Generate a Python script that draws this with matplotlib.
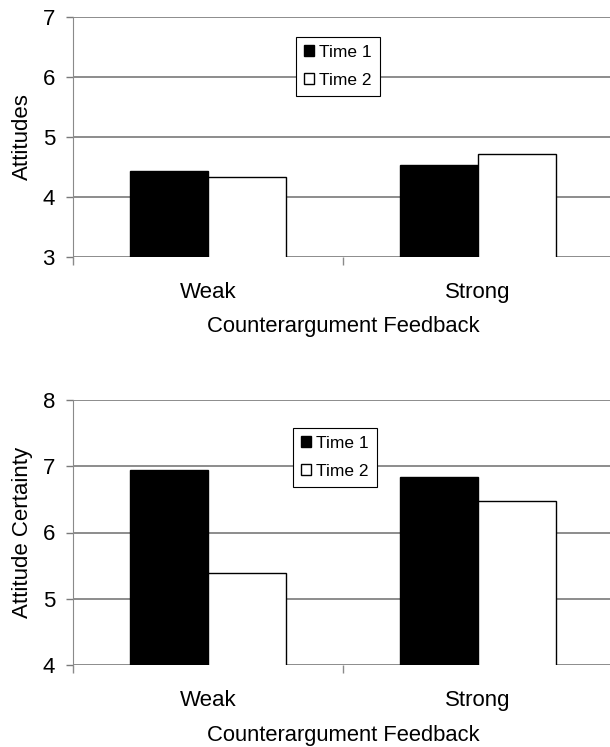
import matplotlib
matplotlib.use("Agg")
import matplotlib.pyplot as plt
import numpy as np

plt.rcParams["font.family"] = ["Liberation Sans", "DejaVu Sans"]

categories = ["Weak", "Strong"]
series = ["Time 1", "Time 2"]
attitudes_t1 = [4.43, 4.53]
attitudes_t2 = [4.33, 4.71]
certainty_t1 = [6.95, 6.84]
certainty_t2 = [5.39, 6.47]

fig = plt.figure(figsize=(6.1, 7.47), dpi=100)
W, H = 610, 747


def panel(rect_px, t1, t2, ylim, ylabel, leg_xy, xlab_y):
    left, top, right, bottom = rect_px
    ax = fig.add_axes([left / W, 1 - bottom / H, (right - left) / W, (bottom - top) / H])
    x = np.arange(len(categories))
    w = 0.288
    ax.bar(x - w / 2, t1, w, color="black", edgecolor="black", linewidth=1, label=series[0], zorder=3)
    ax.bar(x + w / 2, t2, w, color="white", edgecolor="black", linewidth=1, label=series[1], zorder=3)
    ax.set_xlim(-0.5, 1.5)
    ax.set_ylim(*ylim)
    ax.set_yticks(range(ylim[0], ylim[1] + 1))
    ax.yaxis.grid(True, color="#6e6e6e", linewidth=1.1, zorder=0)
    ax.set_axisbelow(True)
    for s in ["top", "right", "bottom"]:
        ax.spines[s].set_visible(False)
    ax.spines["left"].set_color("#8a8a8a")
    ax.tick_params(axis="y", length=5, width=1, color="#7a7a7a", pad=8, labelsize=16)
    ax.set_xticks([-0.5, 0.5, 1.5])
    ax.set_xticklabels([])
    ax.tick_params(axis="x", which="major", length=6, width=1, color="#8a8a8a")
    ax.set_xticks(x, minor=True)
    ax.set_xticklabels(categories, minor=True)
    ax.tick_params(axis="x", which="minor", length=0, pad=18, labelsize=16)
    ax.set_ylabel(ylabel, fontsize=16, labelpad=7)
    ax.set_xlabel("Counterargument Feedback", fontsize=15.8, va="center")
    ax.xaxis.set_label_coords(0.5, xlab_y)
    leg = ax.legend(loc="upper left", bbox_to_anchor=leg_xy, borderaxespad=0, fancybox=False,
                    edgecolor="black", framealpha=1, fontsize=12.5, handlelength=0.6, handleheight=0.6,
                    handletextpad=0.3, borderpad=0.45, labelspacing=0.75)
    leg.get_frame().set_linewidth(0.8)
    return ax


panel((73, 17, 613, 257), attitudes_t1, attitudes_t2, (3, 7), "Attitudes", (0.413, 0.917), -0.288)
panel((73, 400, 613, 665), certainty_t1, certainty_t2, (4, 8), "Attitude Certainty", (0.407, 0.894), -0.266)

fig.savefig("out.png", dpi=100)
